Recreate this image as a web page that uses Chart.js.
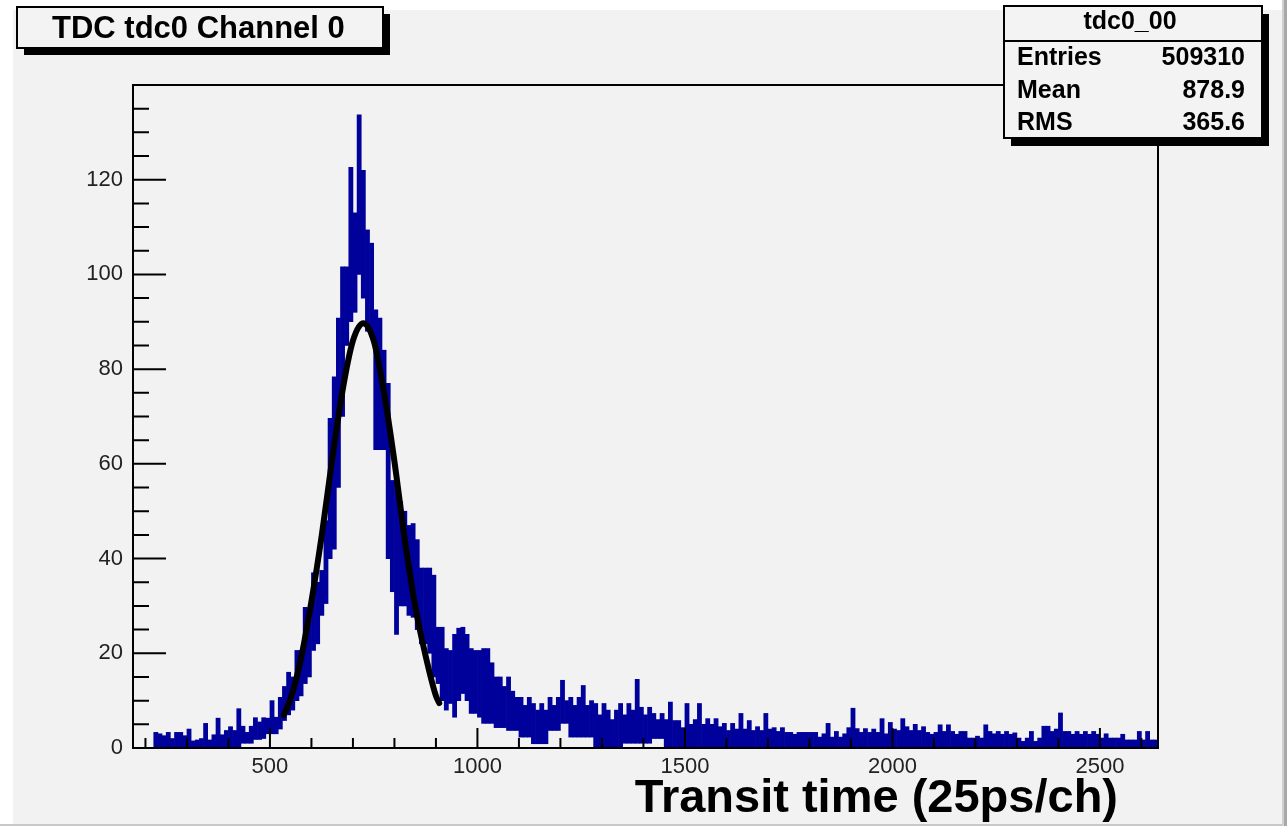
<!DOCTYPE html>
<html><head><meta charset="utf-8">
<script src="https://cdn.jsdelivr.net/npm/chart.js@4.4.1/dist/chart.umd.min.js"></script>
<style>html,body{margin:0;padding:0;background:#fff;}canvas{display:block;}</style>
</head><body>
<canvas id="c" width="1287" height="826"></canvas>
<script>
const histTitle = 'TDC tdc0 Channel 0';
const xAxisTitle = 'Transit time (25ps/ch)';
const statsName = 'tdc0_00';
const statsLabels = ['Entries', 'Mean', 'RMS'];
const statsValues = ['509310', '878.9', '365.6'];

const xMin = 170, xMax = 2640;
const yMin = 0, yMax = 140;
const xTicks = [500, 1000, 1500, 2000, 2500];
const yTicks = [0, 20, 40, 60, 80, 100, 120];
const xMinorStep = 100, yMinorStep = 5;

const binStart = 170, binWidth = 10;
// lower edge of the drawn histogram band in each 10-channel bin
const lowCounts = [
  null,null,null,null,null,0,0,0,0,0,
  0,0,0,0,0,0,0,0,0,0,
  0,0,0,0,0,0,1,1,1,1.8,
  1.8,2,3,3,3,4,5.8,7,8,10,
  11,13.6,15,20.6,22,28,30.5,40,42,55,
  70,85,90,92,100,95,88,87,63,63,
  63,40,33,24,30,30,28,27.6,25,22,
  22,20,15,13.6,10,8,9.4,6.5,10,11.5,
  10,7.3,7.3,6.5,5.2,5.2,5.2,4.3,4.3,4.3,
  3.7,3.7,3.7,2.3,2.3,2.3,0.9,0.9,0.9,0.9,
  3.7,3.7,3.7,5.2,5.2,2.3,2.3,2.3,2.3,2.3,
  2.3,0,0,0,0,0,0,0,1,1,
  1,1,1,1,1,2,2,2,0,0,
  0,0,0,0,0,0,0,0,0,0,
  0,0,0,0,0,0,0,0,0,0,
  0,0,0,0,0,0,0,0,0,0,
  0,0,0,0,0,0,0,0,0,0,
  0,0,0,0,0,0,0,0,0,0,
  0,0,0,0,0,0,0,0,0,0,
  0,0,0,0,0,0,0,0,0,0,
  0,0,0,0,0,0,0,0,0,0,
  0,0,0,0,0,0,0,0,0,0,
  0,0,0,0,0,0,0,0,0,0,
  0,0,0,0,0,0,0,0,0,0,
  0,0,0,0,0,0,0
];
// upper edge of the drawn histogram band in each 10-channel bin
const highCounts = [
  null,null,null,null,null,3.3,3.0,2.6,3.3,2.0,
  3.3,3.3,2.6,4.0,1.5,1.7,2.0,5.2,1.7,2.8,
  6.3,2.8,3.7,4.5,3.7,8.3,4.6,3.3,4.6,6.4,
  5.5,6.4,6.3,10,6.5,10.7,13,16,15,20.6,
  20.6,29.7,27,37,35,37.5,48,69.6,78.4,90.8,
  101.6,101.6,122.6,113,133.7,122,109.4,106.6,92.5,90.8,
  84,77,56.5,56,52,50,47,47.4,44,38,
  38,38,36.5,25.5,25.5,21,20.6,24,25.3,25.5,
  24,21,20.6,20.6,21,21,18,15,15,13,
  15,12,10.7,10.7,9,10.7,9.4,8,9.4,8,
  10.7,9,10.7,14.3,10,10.7,9,10.7,13.2,9,
  10,9.4,7,9.4,8,6,8,9.4,7,9.4,
  8,14.5,8.6,7,8.6,7.3,6,7.3,6,9.7,
  5.8,5.8,4.3,9.4,5,6,9.4,5,6.2,5,
  6.2,4.5,5.2,3.7,5.2,4,7.3,4,5.8,3.7,
  4.5,3.7,7.3,4,4.3,3.5,4.3,3.3,3.3,2.9,
  3.3,3.3,3.3,3.3,3.3,2.3,3,5.2,2.3,3.5,
  2.3,3,4.3,8.4,4.1,3.3,4.1,3.3,4,3.3,
  6.2,3,5.4,4,3.7,6.2,4.5,3.7,5,3.7,
  4.5,3.3,2.9,3.3,4.9,3.5,4.9,3.5,2.9,3.5,
  3.5,2.1,2.1,2.5,2.1,4.9,3.5,3,3.5,2.9,
  3.5,2.9,3.2,2.1,1.4,2.1,3.5,1.4,2.1,4.6,
  4.6,3.5,4,7.4,3.5,3.5,2.9,3.5,2.9,3.5,
  2.9,3.5,2.9,2.1,3,2.1,2.1,2.1,2.9,1.7,
  1.7,1.7,3.5,1.7,3.5,1.7,1.7
];
// gaussian fit curve
const fitX = [533, 550, 575, 600, 625, 650, 675, 700, 725, 750, 775, 800, 825, 850, 875, 900, 908];
const fitY = [6.9, 10.5, 19, 31, 45, 61, 75.5, 86, 89.7, 86, 75, 60.5, 44, 30, 19.5, 11, 9.5];

const FONT = "'Liberation Sans', Arial, Helvetica, sans-serif";

const rootDecor = {
  id: 'rootDecor',
  beforeDraw(chart) {
    const ctx = chart.ctx;
    ctx.save();
    ctx.fillStyle = '#ffffff'; ctx.fillRect(0, 0, chart.width, chart.height);
    ctx.fillStyle = '#f2f2f2'; ctx.fillRect(13, 10, 1269, 814);
    ctx.fillStyle = '#d0d0d0'; ctx.fillRect(1282, 0, 2, 826);
    ctx.fillStyle = '#a8a8a8'; ctx.fillRect(1284, 0, 3, 826);
    ctx.fillStyle = '#c8c8c8'; ctx.fillRect(0, 824, 1282, 2);
    ctx.restore();
  },
  afterDatasetsDraw(chart) {
    const ctx = chart.ctx, a = chart.chartArea, xs = chart.scales.x, ys = chart.scales.y;
    ctx.save();
    ctx.strokeStyle = '#000';
    ctx.lineWidth = 2;
    ctx.beginPath();
    for (let v = Math.ceil(xs.min / xMinorStep) * xMinorStep; v <= xs.max; v += xMinorStep) {
      const px = xs.getPixelForValue(v);
      const len = (v % 500 === 0) ? 20 : 10;
      ctx.moveTo(px, a.bottom); ctx.lineTo(px, a.bottom - len);
    }
    for (let v = ys.min; v <= ys.max; v += yMinorStep) {
      const py = ys.getPixelForValue(v);
      const len = (v % 20 === 0) ? 33 : 16;
      ctx.moveTo(a.left, py); ctx.lineTo(a.left + len, py);
    }
    ctx.stroke();
    ctx.strokeRect(a.left, a.top, a.right - a.left, a.bottom - a.top);
    ctx.restore();
  },
  afterDraw(chart) {
    const ctx = chart.ctx;
    ctx.save();
    // title box
    ctx.fillStyle = '#000';
    ctx.fillRect(24, 14, 366, 41);
    ctx.fillStyle = '#f3f3f3';
    ctx.fillRect(17, 7, 366, 41);
    ctx.strokeStyle = '#000'; ctx.lineWidth = 2;
    ctx.strokeRect(17, 7, 366, 41);
    ctx.fillStyle = '#000';
    ctx.font = 'bold 31px ' + FONT;
    ctx.textAlign = 'left'; ctx.textBaseline = 'alphabetic';
    ctx.fillText(histTitle, 52, 38);

    // stats box
    ctx.fillStyle = '#000';
    ctx.fillRect(1011, 14, 258, 132);
    ctx.fillStyle = '#f3f3f3';
    ctx.fillRect(1004, 6, 258, 132);
    ctx.strokeRect(1004, 6, 258, 132);
    ctx.beginPath(); ctx.moveTo(1004, 41); ctx.lineTo(1262, 41); ctx.stroke();
    ctx.fillStyle = '#000';
    ctx.font = 'bold 25px ' + FONT;
    ctx.textAlign = 'center';
    ctx.fillText(statsName, 1130, 29);
    const rowY = [65, 98, 130];
    statsLabels.forEach((lab, i) => {
      ctx.textAlign = 'left'; ctx.fillText(lab, 1017, rowY[i]);
      ctx.textAlign = 'right'; ctx.fillText(statsValues[i], 1245, rowY[i]);
    });

    // x axis title
    ctx.font = 'bold 47px ' + FONT;
    ctx.textAlign = 'right';
    ctx.fillText(xAxisTitle, 1118, 812);
    ctx.restore();
  }
};

new Chart(document.getElementById('c'), {
  type: 'bar',
  data: {
    datasets: [
      {
        type: 'line', label: 'fit',
        data: fitX.map((x, i) => ({ x: x, y: fitY[i] })),
        borderColor: '#000', borderWidth: 6, pointRadius: 0,
        cubicInterpolationMode: 'monotone', borderCapStyle: 'round', borderJoinStyle: 'round',
        order: 1
      },
      {
        type: 'bar', label: statsName,
        data: lowCounts.map((lo, i) => ({ x: binStart + binWidth * (i + 0.5), y: lo === null ? null : [lo, highCounts[i]] })),
        backgroundColor: '#00009b', borderWidth: 0,
        barPercentage: 1, categoryPercentage: 1, order: 2
      }
    ]
  },
  options: {
    responsive: false, animation: false, devicePixelRatio: 1,
    layout: { padding: { left: 0, top: 85, right: 129, bottom: 0 } },
    plugins: { legend: { display: false }, tooltip: { enabled: false }, title: { display: false } },
    scales: {
      x: {
        type: 'linear', min: xMin, max: xMax, offset: false,
        grid: { display: false, drawTicks: false }, border: { display: false },
        afterBuildTicks(s) { s.ticks = xTicks.map(v => ({ value: v })); },
        afterFit(s) { s.height = 78; },
        ticks: { font: { family: FONT, size: 22 }, color: '#222', padding: 6, maxRotation: 0, autoSkip: false,
                 callback: v => String(v) }
      },
      y: {
        type: 'linear', min: yMin, max: yMax,
        grid: { display: false, drawTicks: false }, border: { display: false },
        afterBuildTicks(s) { s.ticks = yTicks.map(v => ({ value: v })); },
        afterFit(s) { s.width = 133; },
        ticks: { font: { family: FONT, size: 22 }, color: '#222', padding: 10, autoSkip: false,
                 callback: v => String(v) }
      }
    }
  },
  plugins: [rootDecor]
});
</script>
</body></html>
